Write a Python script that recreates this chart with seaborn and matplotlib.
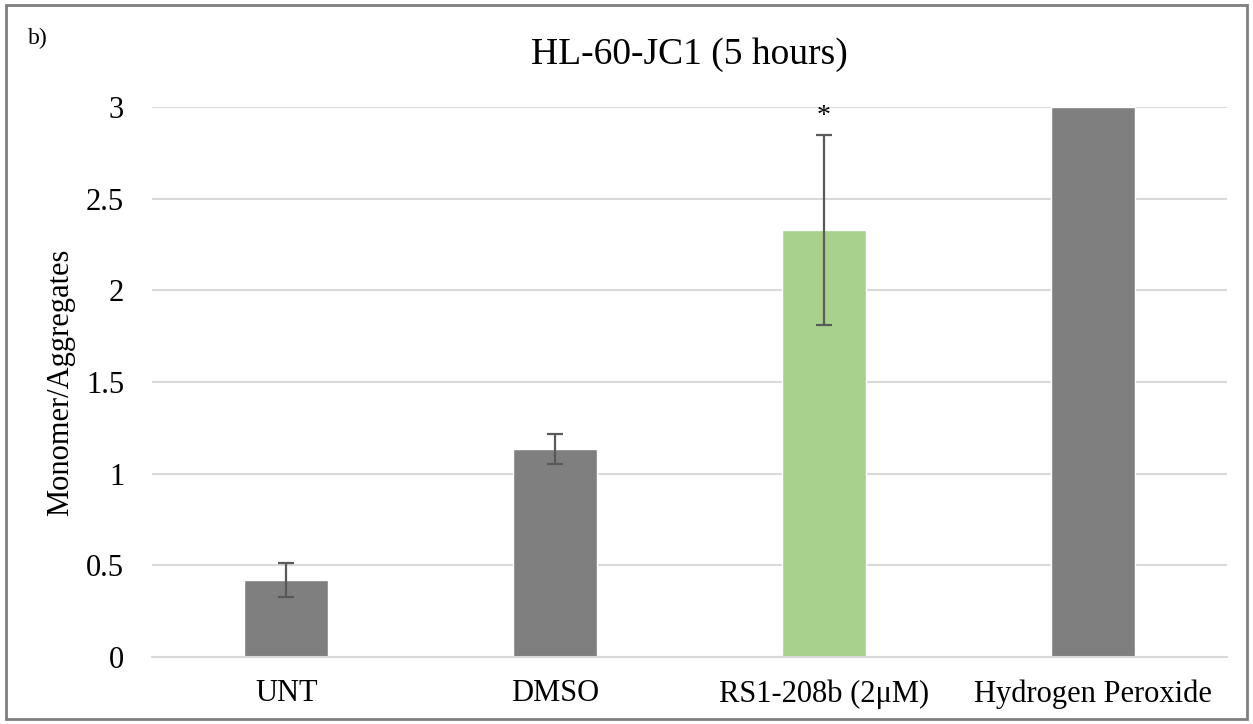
import numpy as np
import pandas as pd
import matplotlib
matplotlib.use('Agg')
import matplotlib.pyplot as plt
from matplotlib.patches import Rectangle
from matplotlib.ticker import FuncFormatter, FixedLocator
import seaborn as sns

categories = ['UNT', 'DMSO', 'RS1-208b (2\u03bcM)', 'Hydrogen Peroxide']
values = [0.42, 1.135, 2.33, 3.0]
errors = [0.093, 0.083, 0.52, 0.0]
bar_colors = ['#7F7F7F', '#7F7F7F', '#A9D18E', '#7F7F7F']
star_labels = ['', '', '*', '']

sns.set_style('white')
plt.rcParams['font.family'] = ['Liberation Serif', 'DejaVu Serif']
plt.rcParams['text.color'] = 'black'
plt.rcParams['axes.labelcolor'] = 'black'
plt.rcParams['xtick.labelcolor'] = 'black'
plt.rcParams['ytick.labelcolor'] = 'black'

df = pd.DataFrame({'Treatment': categories, 'Ratio': values})

fig = plt.figure(figsize=(12.53, 7.24), dpi=100)
ax = fig.add_axes([152 / 1253, 67 / 724, 1075 / 1253, 550 / 724])

sns.barplot(data=df, x='Treatment', y='Ratio', hue='Treatment', palette=bar_colors,
            order=categories, hue_order=categories, width=0.313, legend=False,
            saturation=1, ax=ax, zorder=2)

pos = np.arange(len(categories))
err_idx = [i for i, e in enumerate(errors) if e > 0]
ax.errorbar(pos[err_idx], np.array(values)[err_idx], yerr=np.array(errors)[err_idx],
            fmt='none', ecolor='#595959', elinewidth=1.6, capsize=6, capthick=1.6, zorder=3)

for i, s in enumerate(star_labels):
    if s:
        ax.text(pos[i], values[i] + errors[i] + 0.03, s, ha='center', va='bottom',
                fontsize=20, color='black')

ax.set_ylim(0, 3)
ax.set_xlim(-0.5, len(categories) - 0.5)
ax.set_yticks(np.arange(0, 3.01, 0.5))
ax.yaxis.set_major_formatter(FuncFormatter(lambda v, p: f'{v:g}'))
ax.yaxis.grid(True, color='#D9D9D9', linewidth=1.5)
ax.set_axisbelow(True)

for side in ['left', 'right', 'top']:
    ax.spines[side].set_visible(False)
ax.spines['bottom'].set_color('#D9D9D9')
ax.spines['bottom'].set_linewidth(1.5)

ax.xaxis.set_minor_locator(FixedLocator(np.arange(-0.5, len(categories), 1.0)))
ax.tick_params(axis='x', which='minor', length=7, width=1.5, color='#D9D9D9', direction='out')
ax.tick_params(axis='x', which='major', length=0, pad=16, labelsize=22)
ax.tick_params(axis='y', length=0, pad=20, labelsize=22)

ax.set_xlabel('')
ax.set_ylabel('Monomer/Aggregates', fontsize=22, labelpad=8)
ax.set_title('HL-60-JC1 (5 hours)', fontsize=27, pad=31)

fig.text(28 / 1253, 1 - 38 / 724, 'b)', fontsize=17, ha='left', va='center')
fig.patches.append(Rectangle((0.005, 0.007), 0.99, 0.986, transform=fig.transFigure,
                             fill=False, edgecolor='#7F7F7F', linewidth=2))

fig.savefig('out.png', dpi=100)
